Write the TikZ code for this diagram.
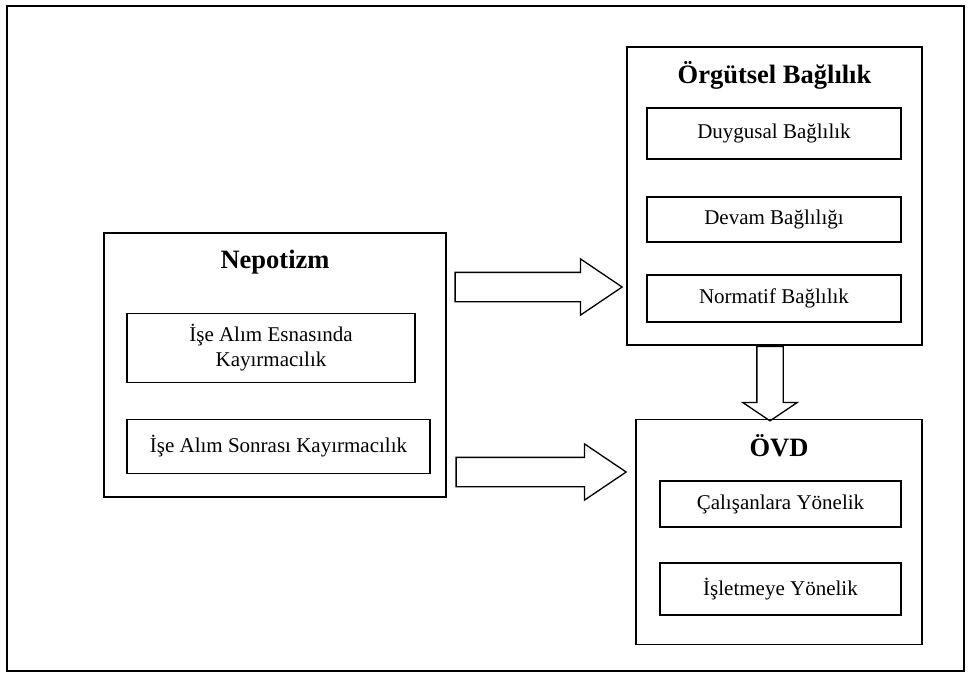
\documentclass[tikz,border=0pt]{standalone}
\usepackage{fontspec}
\setmainfont{Liberation Serif}
\usetikzlibrary{positioning,shapes.arrows}

\begin{document}
\begin{tikzpicture}[
    x=1pt, y=-1pt,
    frame/.style={rectangle, draw, line width=1.4pt, inner sep=0pt},
    box/.style={rectangle, draw, line width=1.4pt, align=center, inner sep=0pt, font=\fontsize{21}{25}\selectfont},
    title/.style={inner sep=0pt, font=\fontsize{26.5}{30}\selectfont\bfseries},
    bigarrow/.style={single arrow, draw, line width=1.3pt, inner sep=14pt, single arrow head extend=13.5pt, single arrow tip angle=68}
]
\useasboundingbox (0,0) rectangle (969,673);
\draw[line width=2.4pt] (7,6) rectangle (964,671);

\node[frame, minimum width=342, minimum height=264] (nep) at (275,365) {};
\node[title] (neptitle) at (275,262) {Nepotizm};
\node[box, minimum width=288, minimum height=69] (nepa) at (271,348) {İşe Alım Esnasında\\Kayırmacılık};
\node[box, minimum width=303, minimum height=54] (nepb) at (278.5,446.5) {İşe Alım Sonrası Kayırmacılık};

\node[frame, minimum width=295, minimum height=298] (org) at (774.5,196) {};
\node[title] (orgtitle) at (774.5,75) {Örgütsel Bağlılık};
\node[box, minimum width=254, minimum height=51] (duy) at (774,133.5) {Duygusal Bağlılık};
\node[box, minimum width=254, minimum height=45] (dev) at (774,219.5) {Devam Bağlılığı};
\node[box, minimum width=254, minimum height=47] (nor) at (774,298.5) {Normatif Bağlılık};

\node[frame, minimum width=286, minimum height=225] (ovd) at (779,532) {};
\node[title] (ovdtitle) at (779,446) {ÖVD};
\node[box, minimum width=241, minimum height=46] (cal) at (780.5,504) {Çalışanlara Yönelik};
\node[box, minimum width=241, minimum height=52] (isl) at (780.5,589) {İşletmeye Yönelik};

\node[bigarrow, minimum height=167, anchor=tip] (nep-org) at ([xshift=-3pt]org.west |- 0,287) {};
\node[bigarrow, minimum height=170, anchor=tip] (nep-ovd) at ([xshift=-8pt]ovd.west |- 0,472) {};
\node[bigarrow, minimum height=74.5, inner sep=12.5pt, single arrow head extend=14pt, single arrow tip angle=112, shape border rotate=270, anchor=tail] (org-ovd) at ([xshift=-4.5pt]org.south) {};
\end{tikzpicture}
\end{document}
